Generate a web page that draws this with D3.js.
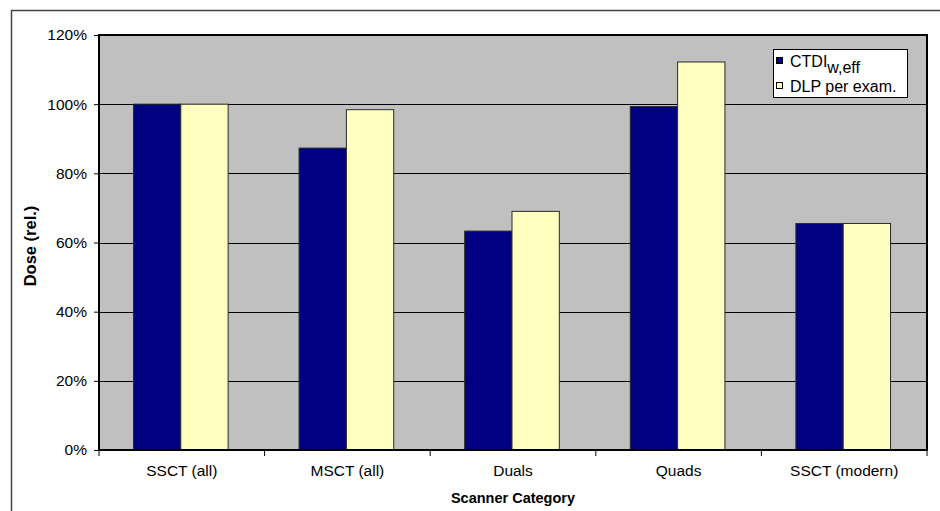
<!DOCTYPE html>
<html>
<head>
<meta charset="utf-8">
<script src="https://cdn.jsdelivr.net/npm/d3@7"></script>
<style>
  body { margin: 0; background: #fff; }
  text { font-family: Arial, "Liberation Sans", sans-serif; fill: #000; }
</style>
</head>
<body>
<svg id="chart" width="940" height="511"></svg>
<script>
// Relative dose per scanner category (1.0 = 100 %)
const categories = ["SSCT (all)", "MSCT (all)", "Duals", "Quads", "SSCT (modern)"];
const ctdiValues = [1.00, 0.873, 0.633, 0.993, 0.655];
const dlpValues  = [1.00, 0.984, 0.690, 1.122, 0.655];
const yTicks = [0, 0.2, 0.4, 0.6, 0.8, 1.0, 1.2];
const seriesKeys = ["ctdi", "dlp"];

const colors = { ctdi: "#000080", dlp: "#FFFFC0" };

const svg = d3.select("#chart");
const plot = { left: 99, right: 927, top: 35, bottom: 450 };

// outer chart frame
svg.append("path")
  .attr("d", "M11.5,511V10.5H940")
  .attr("fill", "none").attr("stroke", "#444").attr("stroke-width", 1.5);

const x = d3.scaleBand().domain(categories).range([plot.left, plot.right]).padding(0);
const y = d3.scaleLinear().domain([0, 1.2]).range([plot.bottom, plot.top]);

// gap width 150 %: two bars take 2 / 3.5 of each category
const barW = x.bandwidth() / 3.5;
const xs = d3.scaleBand().domain(seriesKeys)
  .range([x.bandwidth() / 2 - barW - 1, x.bandwidth() / 2 + barW - 1]);

// plot area
svg.append("rect")
  .attr("x", plot.left).attr("y", plot.top)
  .attr("width", plot.right - plot.left).attr("height", plot.bottom - plot.top)
  .attr("fill", "#C0C0C0");

// gridlines
svg.append("g").selectAll("line").data(yTicks.slice(1, -1)).join("line")
  .attr("x1", plot.left).attr("x2", plot.right)
  .attr("y1", d => Math.round(y(d)) + 0.5).attr("y2", d => Math.round(y(d)) + 0.5)
  .attr("stroke", "#000").attr("stroke-width", 1);

// bars
const rows = categories.map((c, i) => ({ cat: c, ctdi: ctdiValues[i], dlp: dlpValues[i] }));
svg.append("g").selectAll("g").data(rows).join("g")
  .attr("transform", d => `translate(${x(d.cat)},0)`)
  .selectAll("rect").data(d => seriesKeys.map(k => ({ key: k, value: d[k] }))).join("rect")
  .attr("x", d => xs(d.key))
  .attr("y", d => y(d.value))
  .attr("width", xs.bandwidth())
  .attr("height", d => y(0) - y(d.value))
  .attr("fill", d => colors[d.key])
  .attr("stroke", "#2a2a2a").attr("stroke-width", 1);

// plot border
svg.append("rect")
  .attr("x", plot.left).attr("y", plot.top)
  .attr("width", plot.right - plot.left).attr("height", plot.bottom - plot.top)
  .attr("fill", "none").attr("stroke", "#000").attr("stroke-width", 2);

// y axis
const yAxis = d3.axisLeft(y).tickValues(yTicks).tickFormat(d3.format(".0%"))
  .tickSize(5).tickPadding(7);
const gy = svg.append("g").attr("transform", `translate(${plot.left},0)`).call(yAxis);
gy.select(".domain").remove();
gy.selectAll(".tick line").attr("stroke", "#000");
gy.selectAll(".tick text").attr("font-size", 15.5).attr("font-family", "Arial, 'Liberation Sans', sans-serif");

// x axis: ticks at category boundaries
const gx = svg.append("g").attr("transform", `translate(0,${plot.bottom})`)
  .call(d3.axisBottom(x).tickSize(0).tickPadding(15));
gx.select(".domain").remove();
gx.selectAll(".tick text").attr("font-size", 15.5).attr("font-family", "Arial, 'Liberation Sans', sans-serif");
const bounds = categories.map(c => x(c)).concat([x.range()[1]]);
svg.append("g").selectAll("line").data(bounds).join("line")
  .attr("x1", d => d).attr("x2", d => d)
  .attr("y1", plot.bottom).attr("y2", plot.bottom + 6)
  .attr("stroke", "#000");

// axis titles
svg.append("text")
  .attr("x", (plot.left + plot.right) / 2).attr("y", 503)
  .attr("text-anchor", "middle").attr("font-size", 14.5).attr("font-weight", "bold")
  .text("Scanner Category");
svg.append("text")
  .attr("transform", "translate(36,246) rotate(-90)")
  .attr("text-anchor", "middle").attr("font-size", 16.5).attr("font-weight", "bold")
  .attr("fill", "#333")
  .text("Dose (rel.)");

// legend
const lg = svg.append("g").attr("transform", "translate(773,49)");
lg.append("rect").attr("x", 0.5).attr("y", 0.5).attr("width", 134).attr("height", 48)
  .attr("fill", "#fff").attr("stroke", "#000");
const items = [
  { key: "ctdi", y: 0 },
  { key: "dlp", y: 25 }
];
lg.selectAll("rect.sw").data(items).join("rect").attr("class", "sw")
  .attr("x", 3.5).attr("y", d => 8.5 + d.y).attr("width", 6).attr("height", 6)
  .attr("fill", d => colors[d.key]).attr("stroke", "#000");
const t1 = lg.append("text").attr("x", 17).attr("y", 18).attr("font-size", 16);
t1.append("tspan").text("CTDI");
t1.append("tspan").attr("dy", 6).text("w,eff");
lg.append("text").attr("x", 17).attr("y", 43).attr("font-size", 16).text("DLP per exam.");
</script>
</body>
</html>
